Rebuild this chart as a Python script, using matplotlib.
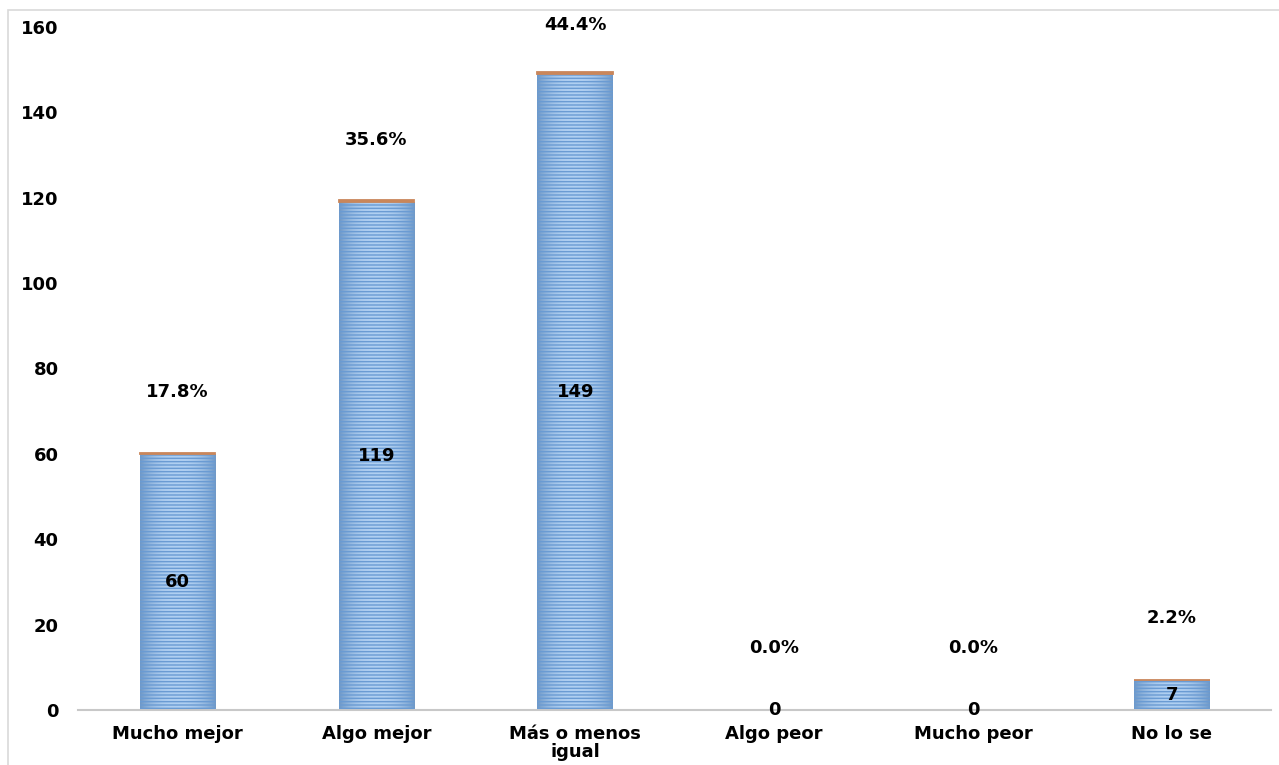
import matplotlib
matplotlib.use("Agg")
import matplotlib.pyplot as plt
import numpy as np
from matplotlib.patches import Rectangle
from matplotlib.colors import LinearSegmentedColormap

plt.rcParams['font.family'] = ['DejaVu Sans']
plt.rcParams['hatch.linewidth'] = 1.0

categories = ["Mucho mejor", "Algo mejor", "Más o menos\nigual", "Algo peor", "Mucho peor", "No lo se"]
counts = [60, 119, 149, 0, 0, 7]
percents = [17.8, 35.6, 44.4, 0.0, 0.0, 2.2]

fig = plt.figure(figsize=(12.79, 7.65), dpi=100)
ax = fig.add_axes([0.061, 0.072, 0.933, 0.893])

x = np.arange(len(categories))
width = 0.38
bars = ax.bar(x, counts, width=width, color='#a7c8eb', edgecolor='none', zorder=2)

grad = np.abs(np.linspace(-1, 1, 64)) ** 2.5
grad = grad[None, :]
cmap = LinearSegmentedColormap.from_list('g', ['#b0d0f2', '#7199c6'])
for b in bars:
    if b.get_height() <= 0:
        continue
    im = ax.imshow(grad, cmap=cmap, aspect='auto', zorder=2.5,
                   extent=[b.get_x(), b.get_x() + b.get_width(), 0, b.get_height()],
                   interpolation='bicubic')
    im.set_clip_path(b)

ax.bar(x, counts, width=width, color='none', edgecolor='#6a9bd3', hatch='-----',
       linewidth=0, zorder=3)

for xi, c, p in zip(x, counts, percents):
    if p > 0:
        ax.bar(xi, p / 100, bottom=c, width=width, color='#c9865a',
               edgecolor='#c9865a', linewidth=1.3, zorder=4)

fs = 13
for xi, c, p in zip(x, counts, percents):
    ax.text(xi, c / 2, f"{c}", ha='center', va='center', fontsize=fs,
            fontweight='bold', color='black', zorder=5)
    ax.text(xi, min(c + 14.5, 160.3), f"{p:.1f}%", ha='center', va='center', fontsize=fs,
            fontweight='bold', color='black', zorder=5, clip_on=False)

ax.set_xlim(-0.5, len(categories) - 0.5)
ax.set_ylim(0, 160)
ax.set_yticks(np.arange(0, 161, 20))
ax.set_xticks(x)
ax.set_xticklabels(categories, fontsize=fs, fontweight='bold', linespacing=1.0)
for lab in ax.get_yticklabels():
    lab.set_fontsize(fs)
    lab.set_fontweight('bold')
ax.tick_params(axis='both', length=0)
ax.tick_params(axis='y', pad=14)
ax.tick_params(axis='x', pad=11)
for s in ['top', 'right', 'left']:
    ax.spines[s].set_visible(False)
ax.spines['bottom'].set_color('#c8c8c8')
ax.spines['bottom'].set_linewidth(1.5)

fig.patches.append(Rectangle((0.0065, -0.01), 1.0, 0.997, transform=fig.transFigure,
                             fill=False, edgecolor='#d9d9d9', linewidth=1.2))

fig.savefig("out.png", dpi=100)
